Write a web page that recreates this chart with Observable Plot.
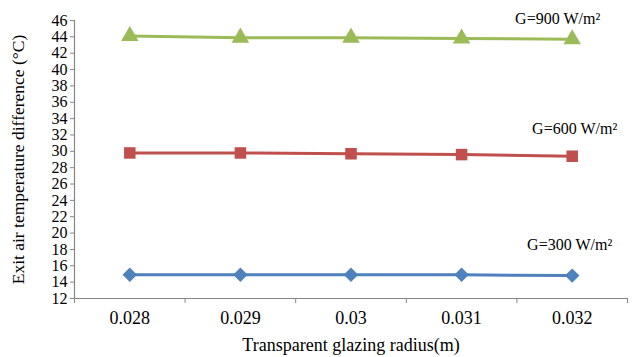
<!DOCTYPE html>
<html>
<head>
<meta charset="utf-8">
<script src="https://cdn.jsdelivr.net/npm/d3@7"></script>
<script src="https://cdn.jsdelivr.net/npm/@observablehq/plot@0.6"></script>
<style>
  html, body { margin: 0; padding: 0; background: #fff; }
  #chart svg { display: block; }
</style>
</head>
<body>
<div id="chart"></div>
<script>
// Glazing radius (m) and the exit air temperature difference (°C) per irradiance level
const radii = [0.028, 0.029, 0.030, 0.031, 0.032];
const radiusLabels = ["0.028", "0.029", "0.03", "0.031", "0.032"];
const g300 = [14.9, 14.9, 14.9, 14.9, 14.8];
const g600 = [29.8, 29.8, 29.7, 29.6, 29.4];
const g900 = [44.1, 43.9, 43.9, 43.8, 43.7];
const seriesNames = ["G=300 W/m²", "G=600 W/m²", "G=900 W/m²"];
const seriesColors = ["#4F81BD", "#C0504D", "#9BBB59"];
const seriesSymbols = ["diamond2", "square", "triangle"];
const labelValues = [18.5, 32.8, 46.2];
const yTicks = d3.range(12, 47, 2);

const seriesValues = [g300, g600, g900];
const rows = seriesValues.flatMap((vals, s) =>
  vals.map((v, i) => ({series: seriesNames[s], x: radii[i], y: v})));

const font = "'Liberation Serif', 'Times New Roman', serif";
const boundaries = d3.range(0, 6).map(i => 0.0275 + i * 0.001);

const labelDx = [40, 45, 28];
const labelMarks = seriesNames.map((name, s) =>
  Plot.text([{x: radii[radii.length - 1], y: labelValues[s], t: name}], {
    x: "x", y: "y", text: "t", textAnchor: "end", dx: labelDx[s],
    fontSize: 16, fill: "#000", clip: false
  }));

const chart = Plot.plot({
  width: 636,
  height: 357,
  marginLeft: 74,
  marginRight: 9,
  marginTop: 20,
  marginBottom: 59,
  style: {fontFamily: font, fontSize: "16px", color: "#000", background: "#fff"},
  x: {domain: [0.0275, 0.0325]},
  y: {domain: [12, 46]},
  color: {domain: seriesNames, range: seriesColors},
  symbol: {domain: seriesNames, range: seriesSymbols},
  marks: [
    Plot.ruleY([12], {stroke: "#868686", strokeWidth: 1.2}),
    Plot.ruleX([0.0275], {stroke: "#868686", strokeWidth: 1.2}),
    Plot.axisX({ticks: boundaries, tickFormat: () => "", tickSize: 5, stroke: "#868686", label: null}),
    Plot.axisX({ticks: radii, tickFormat: (d, i) => radiusLabels[i], tickSize: 0, tickPadding: 13,
      fontSize: 18, label: null}),
    Plot.axisX({ticks: [], label: "Transparent glazing radius(m)", labelAnchor: "center", labelArrow: "none",
      labelOffset: 52, fontSize: 18}),
    Plot.axisY({ticks: yTicks, tickSize: 4, tickPadding: 3, stroke: "#868686", fontSize: 16, label: null}),
    Plot.axisY({ticks: [], label: "Exit air temperature difference (°C)", labelAnchor: "center", labelArrow: "none",
      labelOffset: 63, fontSize: 17.5}),
    Plot.line(rows, {x: "x", y: "y", z: "series", stroke: "series", strokeWidth: 3}),
    Plot.dot(rows, {x: "x", y: "y", fill: "series", symbol: "series", r: 6.5, stroke: null}),
    ...labelMarks
  ]
});

document.getElementById("chart").append(chart);
</script>
</body>
</html>
